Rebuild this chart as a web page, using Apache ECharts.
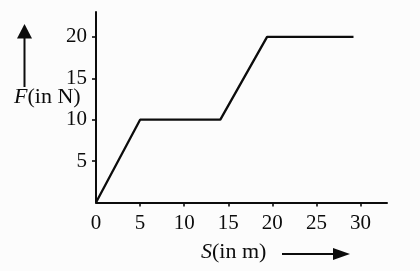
<!DOCTYPE html>
<html>
<head>
<meta charset="utf-8">
<script src="https://cdn.jsdelivr.net/npm/echarts@6/dist/echarts.min.js"></script>
<style>html,body{margin:0;padding:0;background:#fcfcfc}#c{width:420px;height:271px}</style>
</head>
<body>
<div id="c"></div>
<script>
// Data
const sValues = [0, 5, 14.1, 19.4, 29.2];   // S (in m)
const fValues = [0, 10, 10, 20, 20];         // F (in N)
const xTicks = [0, 5, 10, 15, 20, 25, 30];
const yTicks = [5, 10, 15, 20];
const xTitle = 'S';
const xUnit = '(in m)';
const yTitle = 'F';
const yUnit = '(in N)';

const ink = '#0c0c0c';
const font = 'Liberation Serif';
const chart = echarts.init(document.getElementById('c'), null, {renderer: 'canvas'});
chart.setOption({
  backgroundColor: '#fcfcfc',
  animation: false,
  grid: {left: 96, right: 33, top: 12, bottom: 68.5},
  xAxis: {
    type: 'value', min: 0, max: 33,
    axisLine: {show: true, lineStyle: {color: ink, width: 2}},
    axisTick: {show: true, customValues: xTicks.slice(1), length: 4, lineStyle: {color: ink, width: 1.6}},
    axisLabel: {customValues: xTicks, margin: 10, color: ink, fontFamily: font, fontSize: 21},
    splitLine: {show: false}
  },
  yAxis: {
    type: 'value', min: 0, max: 23,
    axisLine: {show: true, lineStyle: {color: ink, width: 2}},
    axisTick: {show: true, customValues: yTicks, length: 4, lineStyle: {color: ink, width: 1.6}},
    axisLabel: {customValues: yTicks, margin: 9, color: ink, fontFamily: font, fontSize: 21},
    splitLine: {show: false}
  },
  series: [{
    type: 'line',
    data: sValues.map((s, i) => [s, fValues[i]]),
    symbol: 'none',
    lineStyle: {color: ink, width: 2.3},
    z: 3
  }],
  graphic: [
    {type: 'text', left: 14, top: 86,
     style: {text: '{i|' + yTitle + '}' + yUnit, fill: ink, font: '22px "Liberation Serif"',
       rich: {i: {fontStyle: 'italic', fontFamily: font, fontSize: 22, fill: ink}}}},
    {type: 'text', left: 201, top: 241,
     style: {text: '{i|' + xTitle + '}' + xUnit, fill: ink, font: '22px "Liberation Serif"',
       rich: {i: {fontStyle: 'italic', fontFamily: font, fontSize: 22, fill: ink}}}},
    {type: 'line', shape: {x1: 24.5, y1: 87, x2: 24.5, y2: 36}, style: {stroke: ink, lineWidth: 2}},
    {type: 'polygon', shape: {points: [[24.5, 24], [17, 38.5], [32, 38.5]]}, style: {fill: ink}},
    {type: 'line', shape: {x1: 282, y1: 254, x2: 336, y2: 254}, style: {stroke: ink, lineWidth: 2}},
    {type: 'polygon', shape: {points: [[350, 254], [333, 248], [333, 260]]}, style: {fill: ink}}
  ]
});
</script>
</body>
</html>
